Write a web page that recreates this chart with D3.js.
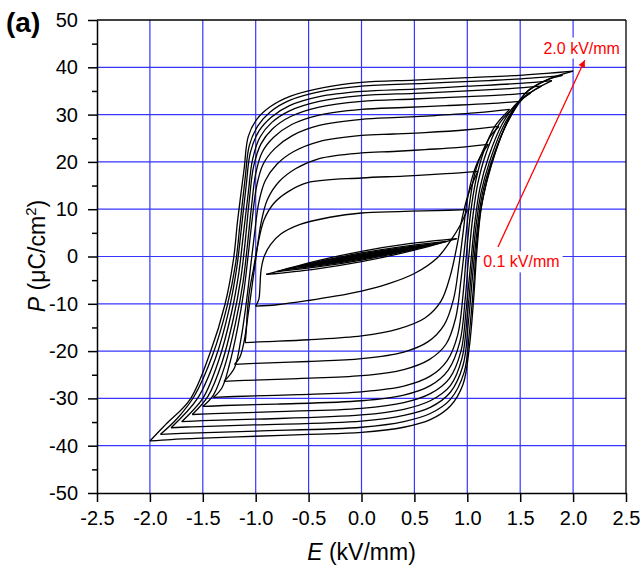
<!DOCTYPE html>
<html>
<head>
<meta charset="utf-8">
<script src="https://cdn.jsdelivr.net/npm/d3@7"></script>
<style>
  html, body { margin: 0; padding: 0; background: #ffffff; }
  svg { display: block; font-family: Arial, "Liberation Sans", sans-serif; }
</style>
</head>
<body>
<svg id="chart" width="641" height="570"></svg>
<script>
// Axis ticks
const xTicks = [-2.5, -2.0, -1.5, -1.0, -0.5, 0.0, 0.5, 1.0, 1.5, 2.0, 2.5];
const yTicks = [-50, -40, -30, -20, -10, 0, 10, 20, 30, 40, 50];
const yMinorTicks = [-45, -35, -25, -15, -5, 5, 15, 25, 35, 45];

// Field amplitudes of the measured loops (kV/mm)
const amplitudes = [0.1, 0.2, 0.3, 0.4, 0.5, 0.6, 0.7, 0.8, 0.9, 1.0,
                    1.1, 1.2, 1.3, 1.4, 1.5, 1.6, 1.7, 1.8, 1.9, 2.0];

// Each loop: descending branch (from +Emax to -Emax) and ascending branch (back), [E, P]
const desc01 = [[0.1,0.35],[0.05,0.21],[0,0.05],[-0.05,-0.14],[-0.1,-0.35]];
const asc01  = [[-0.1,-0.35],[-0.05,-0.21],[0,-0.05],[0.05,0.14],[0.1,0.35]];
const desc02 = [[0.2,0.75],[0.1,0.45],[0,0.09],[-0.1,-0.3],[-0.2,-0.75]];
const asc02  = [[-0.2,-0.75],[-0.1,-0.45],[0,-0.09],[0.1,0.3],[0.2,0.75]];
const desc03 = [[0.3,1.1],[0.15,0.66],[0,0.14],[-0.15,-0.44],[-0.3,-1.1]];
const asc03  = [[-0.3,-1.1],[-0.15,-0.66],[0,-0.14],[0.15,0.44],[0.3,1.1]];
const desc04 = [[0.4,1.5],[0.2,0.9],[0,0.2],[-0.2,-0.6],[-0.4,-1.5]];
const asc04  = [[-0.4,-1.5],[-0.2,-0.9],[0,-0.2],[0.2,0.6],[0.4,1.5]];
const desc05 = [[0.5,1.9],[0.25,1.18],[0,0.3],[-0.25,-0.72],[-0.5,-1.9]];
const asc05  = [[-0.5,-1.9],[-0.25,-1.18],[0,-0.3],[0.25,0.72],[0.5,1.9]];
const desc06 = [[0.6,2.3],[0.3,1.45],[0,0.4],[-0.3,-0.85],[-0.6,-2.3]];
const asc06  = [[-0.6,-2.3],[-0.3,-1.45],[0,-0.4],[0.3,0.85],[0.6,2.3]];
const desc07 = [[0.7,2.7],[0.35,1.76],[0,0.55],[-0.35,-0.94],[-0.7,-2.7]];
const asc07  = [[-0.7,-2.7],[-0.35,-1.76],[0,-0.55],[0.35,0.94],[0.7,2.7]];
const desc08 = [[0.8,3.2],[0.4,2.16],[0,0.75],[-0.4,-1.04],[-0.8,-3.2]];
const asc08  = [[-0.8,-3.2],[-0.4,-2.16],[0,-0.75],[0.4,1.04],[0.8,3.2]];
const desc09 = [[0.9,3.8],[0.45,2.72],[0,1.1],[-0.45,-1.08],[-0.9,-3.8]];
const asc09  = [[-0.9,-3.8],[-0.45,-2.72],[0,-1.1],[0.45,1.08],[0.9,3.8]];

const desc10 = [[1.0,9.9],[0.7,9.7],[0.35,9.5],[0,9.2],[-0.3,8.3],[-0.58,6.8],[-0.76,4.8],[-0.86,2.5],[-0.92,0],[-0.95,-3],[-0.96,-6.5],[-0.97,-9],[-1.0,-10.5]];
const asc10  = [[-1.0,-10.5],[-0.8,-10.2],[-0.5,-9.3],[-0.25,-8.4],[0,-7.3],[0.25,-5.8],[0.5,-3.6],[0.72,-0.2],[0.85,3.6],[0.93,6.5],[1.0,9.9]];

const desc11 = [[1.1,18.0],[0.8,17.5],[0.4,17.0],[0,16.6],[-0.51,15.6],[-0.7,13.6],[-0.83,11.2],[-0.92,7.8],[-0.98,2.5],[-1.02,-2.5],[-1.06,-7.5],[-1.08,-12],[-1.09,-16],[-1.1,-18.2]];
const asc11  = [[-1.1,-18.2],[-0.9,-18.0],[-0.5,-17.6],[0,-16.8],[0.35,-15.3],[0.6,-13],[0.75,-9.5],[0.84,-4],[0.9,2],[0.95,8],[1.0,12.5],[1.05,15.5],[1.1,18.0]];

const desc12 = [[1.2,23.7],[0.9,23.0],[0.6,22.6],[0.3,22.2],[0,21.9],[-0.4,20.7],[-0.62,18.6],[-0.78,15.8],[-0.89,12],[-0.95,7],[-0.99,1],[-1.03,-5.5],[-1.07,-12],[-1.11,-18],[-1.15,-21.3],[-1.2,-22.8]];
const asc12  = [[-1.2,-22.8],[-1.0,-22.6],[-0.5,-22.2],[0,-21.6],[0.4,-20.2],[0.63,-18],[0.78,-14.5],[0.87,-9],[0.92,-2],[0.96,5],[1.0,12],[1.05,17],[1.12,21],[1.2,23.7]];

const desc13 = [[1.3,27.5],[1.0,26.8],[0.6,26.2],[0.3,25.9],[0,25.6],[-0.4,24.3],[-0.64,22.2],[-0.8,19.5],[-0.91,16],[-0.97,11.5],[-1.01,5],[-1.05,-2.5],[-1.09,-10],[-1.14,-17.5],[-1.2,-23.5],[-1.3,-26.4]];
const asc13  = [[-1.3,-26.4],[-1.1,-26.2],[-0.6,-25.8],[0,-25.2],[0.4,-23.9],[0.64,-21.8],[0.8,-18.5],[0.89,-13],[0.94,-5],[0.98,3],[1.02,11],[1.07,17.5],[1.15,22.5],[1.22,25.5],[1.3,27.5]];

const desc14 = [[1.4,31.1],[1.1,30.4],[0.7,29.8],[0.35,29.4],[0,29.0],[-0.4,27.7],[-0.65,25.6],[-0.82,22.8],[-0.93,19.5],[-0.99,15],[-1.03,8.5],[-1.07,0.5],[-1.11,-7],[-1.17,-15],[-1.25,-23],[-1.32,-27.8],[-1.4,-29.8]];
const asc14  = [[-1.4,-29.8],[-1.2,-29.6],[-0.6,-29.2],[0,-28.6],[0.4,-27.4],[0.65,-25.3],[0.81,-22],[0.91,-16.5],[0.96,-8],[0.99,0],[1.03,9],[1.08,16],[1.16,22.5],[1.26,27.5],[1.4,31.1]];

const desc15 = [[1.5,32.8],[1.2,32.3],[0.8,31.9],[0.4,31.5],[0,31.1],[-0.4,29.9],[-0.66,27.9],[-0.83,25.2],[-0.94,22],[-1.0,17.5],[-1.04,10.5],[-1.08,2],[-1.12,-5.5],[-1.19,-14],[-1.29,-23],[-1.4,-29.3],[-1.5,-31.7]];
const asc15  = [[-1.5,-31.7],[-1.3,-31.5],[-0.8,-31.2],[0,-30.5],[0.4,-29.3],[0.65,-27.3],[0.82,-24],[0.93,-18],[0.98,-9],[1.01,-1],[1.05,8],[1.1,15.5],[1.18,22],[1.3,28],[1.5,32.8]];

const desc16 = [[1.6,34.6],[1.3,34.1],[1.0,33.8],[0.5,33.3],[0,32.8],[-0.4,31.6],[-0.67,29.6],[-0.84,27.0],[-0.95,23.8],[-1.02,19],[-1.06,12],[-1.1,3],[-1.14,-4.5],[-1.21,-13],[-1.32,-22.5],[-1.45,-29.5],[-1.6,-33.4]];
const asc16  = [[-1.6,-33.4],[-1.4,-33.2],[-0.8,-32.8],[0,-32.1],[0.4,-30.9],[0.65,-29],[0.83,-25.8],[0.94,-20],[0.99,-11],[1.03,-2],[1.07,7],[1.12,14.5],[1.2,21],[1.33,28],[1.45,32],[1.6,34.6]];

const desc17 = [[1.7,36.0],[1.4,35.5],[1.0,35.0],[0.5,34.5],[0,34.0],[-0.4,32.8],[-0.68,30.8],[-0.85,28.3],[-0.96,25.2],[-1.03,20.5],[-1.07,13.5],[-1.12,4],[-1.16,-3.5],[-1.23,-12],[-1.35,-22],[-1.5,-30],[-1.7,-34.9]];
const asc17  = [[-1.7,-34.9],[-1.5,-34.7],[-1.0,-34.4],[0,-33.5],[0.4,-32.3],[0.65,-30.5],[0.84,-27.3],[0.95,-21.5],[1.0,-12.5],[1.04,-3],[1.08,6],[1.13,13.5],[1.21,20],[1.34,27.5],[1.5,33],[1.7,36.0]];

const desc18 = [[1.8,37.2],[1.5,36.6],[1.0,36.0],[0.5,35.4],[0,34.9],[-0.4,33.8],[-0.68,31.9],[-0.85,29.5],[-0.97,26.5],[-1.05,22],[-1.09,15],[-1.14,5],[-1.18,-2.5],[-1.25,-11],[-1.38,-21.5],[-1.55,-30],[-1.8,-36.2]];
const asc18  = [[-1.8,-36.2],[-1.6,-36.0],[-1.0,-35.6],[0,-34.8],[0.4,-33.6],[0.65,-31.9],[0.84,-28.7],[0.96,-23],[1.01,-14],[1.05,-4],[1.09,5],[1.14,13],[1.22,19.5],[1.35,27],[1.53,33.5],[1.8,37.2]];

const desc19 = [[1.9,38.3],[1.6,37.7],[1.2,37.2],[0.6,36.6],[0,36.0],[-0.38,34.9],[-0.68,33.0],[-0.86,30.6],[-0.98,27.6],[-1.06,23.5],[-1.1,16.5],[-1.15,6.5],[-1.19,-1.5],[-1.27,-10.5],[-1.41,-21],[-1.58,-29.5],[-1.74,-34.2],[-1.9,-37.6]];
const asc19  = [[-1.9,-37.6],[-1.7,-37.4],[-1.0,-36.9],[0,-36.1],[0.4,-34.9],[0.65,-33.2],[0.84,-30.2],[0.97,-24.5],[1.02,-16],[1.06,-6],[1.09,3],[1.14,11.5],[1.23,19.5],[1.37,28],[1.55,34.5],[1.75,37.3],[1.9,38.3]];

const desc20 = [[2.0,39.2],[1.75,38.7],[1.5,38.3],[1.0,37.8],[0.5,37.3],[0,36.8],[-0.36,35.7],[-0.67,33.9],[-0.86,31.7],[-0.99,29.0],[-1.07,25.4],[-1.11,18.4],[-1.17,7.8],[-1.21,-0.6],[-1.29,-10.1],[-1.43,-20.3],[-1.62,-30.2],[-1.85,-35.5],[-2.0,-39.0]];
const asc20  = [[-2.0,-39.0],[-1.8,-38.7],[-1.5,-38.4],[-1.0,-38.0],[-0.5,-37.6],[0,-37.2],[0.4,-36.1],[0.65,-34.5],[0.84,-31.6],[0.96,-27],[1.02,-19],[1.06,-9],[1.09,1],[1.13,10],[1.19,16.5],[1.25,21],[1.33,26],[1.41,30],[1.57,35],[1.79,37.7],[2.0,39.2]];

const branches = [
  desc01, asc01, desc02, asc02, desc03, asc03, desc04, asc04, desc05, asc05,
  desc06, asc06, desc07, asc07, desc08, asc08, desc09, asc09, desc10, asc10,
  desc11, asc11, desc12, asc12, desc13, asc13, desc14, asc14, desc15, asc15,
  desc16, asc16, desc17, asc17, desc18, asc18, desc19, asc19, desc20, asc20
];

// Annotation: arrow from the smallest to the largest amplitude
const arrowFrom = [1.29, 2.0];
const arrowTo = [2.11, 41.5];
const labelLow = { text: "0.1 kV/mm", at: [1.15, -2.3] };
const labelHigh = { text: "2.0 kV/mm", at: [1.72, 42.9] };

const svg = d3.select("#chart");
const x = d3.scaleLinear().domain([-2.5, 2.5]).range([97, 626]);
const y = d3.scaleLinear().domain([-50, 50]).range([493, 20]);

const gridColor = "#3636ff";

// grid
const grid = svg.append("g");
grid.selectAll("line.gx")
  .data(xTicks.slice(1, -1))
  .join("line")
  .attr("x1", d => x(d)).attr("x2", d => x(d))
  .attr("y1", y(50)).attr("y2", y(-50))
  .attr("stroke", gridColor).attr("stroke-width", 1.2);
grid.selectAll("line.gy")
  .data(yTicks.slice(1, -1))
  .join("line")
  .attr("y1", d => y(d)).attr("y2", d => y(d))
  .attr("x1", x(-2.5)).attr("x2", x(2.5))
  .attr("stroke", gridColor).attr("stroke-width", 1.2);

// loops
const line = d3.line()
  .x(d => x(d[0]))
  .y(d => y(d[1]))
  .curve(d3.curveCatmullRom.alpha(0.5));

svg.append("g")
  .selectAll("path")
  .data(branches)
  .join("path")
  .attr("d", line)
  .attr("fill", "none")
  .attr("stroke", "#000")
  .attr("stroke-width", 1.3)
  .attr("stroke-linejoin", "round");

// frame (top and right)
svg.append("line")
  .attr("x1", x(-2.5)).attr("x2", x(2.5)).attr("y1", y(50)).attr("y2", y(50))
  .attr("stroke", "#000").attr("stroke-width", 1.3);
svg.append("line")
  .attr("x1", x(2.5)).attr("x2", x(2.5)).attr("y1", y(50)).attr("y2", y(-50))
  .attr("stroke", "#000").attr("stroke-width", 1.3);

// axes
const xAxis = svg.append("g")
  .attr("transform", `translate(0,${y(-50)})`)
  .call(d3.axisBottom(x).tickValues(xTicks).tickFormat(d => d.toFixed(1))
    .tickSize(9).tickSizeOuter(0).tickPadding(9));
const yAxis = svg.append("g")
  .attr("transform", `translate(${x(-2.5)},0)`)
  .call(d3.axisLeft(y).tickValues(yTicks).tickFormat(d => String(d))
    .tickSize(9).tickSizeOuter(0).tickPadding(10));
const yMinor = svg.append("g")
  .attr("transform", `translate(${x(-2.5)},0)`)
  .call(d3.axisLeft(y).tickValues(yMinorTicks).tickFormat("")
    .tickSize(5).tickSizeOuter(0));
yMinor.select(".domain").remove();

[xAxis, yAxis, yMinor].forEach(g => {
  g.selectAll("path, line").attr("stroke", "#000").attr("stroke-width", 1.5);
  g.selectAll("text").attr("fill", "#000")
    .style("font-family", 'Arial, "Liberation Sans", sans-serif')
    .style("font-size", "20px");
});

// axis titles
const xTitle = svg.append("text")
  .attr("x", 361.5).attr("y", 560)
  .attr("text-anchor", "middle")
  .style("font-size", "23px");
xTitle.append("tspan").attr("font-style", "italic").text("E");
xTitle.append("tspan").text(" (kV/mm)");

const yTitle = svg.append("text")
  .attr("transform", "translate(45,256) rotate(-90)")
  .attr("text-anchor", "middle")
  .style("font-size", "23px");
yTitle.append("tspan").attr("font-style", "italic").text("P");
yTitle.append("tspan").text(" (\u03BCC/cm");
yTitle.append("tspan").attr("dy", -9).style("font-size", "15px").text("2");
yTitle.append("tspan").attr("dy", 9).text(")");

// panel label
svg.append("text")
  .attr("x", 6).attr("y", 32)
  .style("font-size", "28px").style("font-weight", "bold")
  .text("(a)");

// annotation
const red = "#ff0000";
svg.append("defs").append("marker")
  .attr("id", "arrowhead")
  .attr("viewBox", "0 0 10 10")
  .attr("refX", 10).attr("refY", 5)
  .attr("markerWidth", 8).attr("markerHeight", 7)
  .attr("markerUnits", "userSpaceOnUse")
  .attr("orient", "auto")
  .append("path").attr("d", "M0,0 L10,5 L0,10 Z").attr("fill", red);

[labelLow, labelHigh].forEach(l => {
  const t = svg.append("text")
    .attr("x", x(l.at[0])).attr("y", y(l.at[1]))
    .attr("fill", red)
    .style("font-size", "16px")
    .text(l.text);
  const b = t.node().getBBox();
  svg.insert("rect", () => t.node())
    .attr("x", b.x - 3).attr("y", b.y - 2)
    .attr("width", b.width + 6).attr("height", b.height + 4)
    .attr("fill", "#fff");
});

svg.append("line")
  .attr("x1", x(arrowFrom[0])).attr("y1", y(arrowFrom[1]))
  .attr("x2", x(arrowTo[0])).attr("y2", y(arrowTo[1]))
  .attr("stroke", red).attr("stroke-width", 1.3)
  .attr("marker-end", "url(#arrowhead)");
</script>
</body>
</html>
